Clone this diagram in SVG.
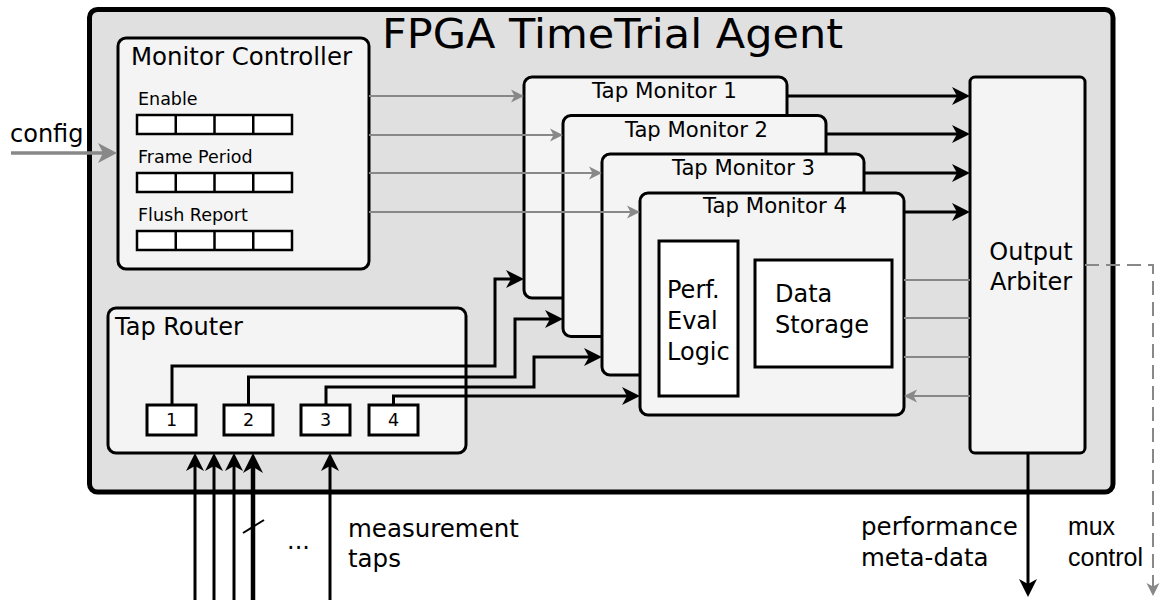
<svg xmlns="http://www.w3.org/2000/svg" width="1160" height="600" viewBox="0 0 1160 600">
<style>
.box{fill:#f4f4f4;stroke:#000;stroke-width:3}
.wb{fill:#fff;stroke:#000;stroke-width:3}
.reg{fill:#fff;stroke:#000;stroke-width:2.5}
.t{font-family:"DejaVu Sans",sans-serif;fill:#000}
.ls{font-family:"Liberation Sans",Arial,sans-serif;fill:#000}
.gl{stroke:#888;stroke-width:2;fill:none}
.bl{stroke:#000;stroke-width:3;fill:none}
</style>
<defs>
<marker id="ag" viewBox="-15 -8 17 16" markerWidth="17" markerHeight="16" refX="-4" refY="0" orient="auto" markerUnits="userSpaceOnUse" overflow="visible"><path d="M0,0 L-13,-6.5 L-9.5,0 L-13,6.5 Z" fill="#888"/></marker>
<marker id="agl" viewBox="-20 -11 22 22" markerWidth="22" markerHeight="22" refX="-5" refY="0" orient="auto" markerUnits="userSpaceOnUse" overflow="visible"><path d="M0,0 L-19,-10 L-14,0 L-19,10 Z" fill="#888"/></marker>
<marker id="ab" viewBox="-20 -10 22 20" markerWidth="22" markerHeight="20" refX="-5" refY="0" orient="auto" markerUnits="userSpaceOnUse" overflow="visible"><path d="M0,0 L-18,-9 L-13,0 L-18,9 Z" fill="#000"/></marker>
<marker id="abb" viewBox="-22 -11 24 22" markerWidth="24" markerHeight="22" refX="-6" refY="0" orient="auto" markerUnits="userSpaceOnUse" overflow="visible"><path d="M0,0 L-20,-10 L-14,0 L-20,10 Z" fill="#000"/></marker>
</defs>
<rect width="1160" height="600" fill="#fff"/>

<g id="agent">
<rect x="89.5" y="9.5" width="1023.5" height="482.5" rx="8" fill="#e0e0e0" stroke="#000" stroke-width="5"/>
<text class="t" x="382" y="48" font-size="41" textLength="461" lengthAdjust="spacingAndGlyphs">FPGA TimeTrial Agent</text>
</g>

<g id="monitor-controller">
<rect class="box" x="118" y="38" width="251" height="231" rx="8"/>
<text class="t" x="131" y="65" font-size="24" textLength="221" lengthAdjust="spacingAndGlyphs">Monitor Controller</text>
<text class="t" x="138" y="105" font-size="17.5">Enable</text>
<rect class="reg" x="137" y="115" width="155" height="19"/>
<path d="M175.75,115V134M214.5,115V134M253.25,115V134" stroke="#000" stroke-width="2.5"/>
<text class="t" x="138" y="163" font-size="17.5">Frame Period</text>
<rect class="reg" x="137" y="173" width="155" height="19"/>
<path d="M175.75,173V192M214.5,173V192M253.25,173V192" stroke="#000" stroke-width="2.5"/>
<text class="t" x="138" y="221" font-size="17.5">Flush Report</text>
<rect class="reg" x="137" y="231" width="155" height="19"/>
<path d="M175.75,231V250M214.5,231V250M253.25,231V250" stroke="#000" stroke-width="2.5"/>
</g>

<g id="tap-router">
<rect class="box" x="108" y="308" width="358" height="145" rx="8"/>
<text class="t" x="115" y="335" font-size="24">Tap Router</text>
<rect class="wb" x="147" y="405" width="49" height="30"/>
<text class="t" x="171.5" y="426" font-size="17.5" text-anchor="middle">1</text>
<rect class="wb" x="224" y="405" width="49" height="30"/>
<text class="t" x="248.5" y="426" font-size="17.5" text-anchor="middle">2</text>
<rect class="wb" x="301" y="405" width="49" height="30"/>
<text class="t" x="325.5" y="426" font-size="17.5" text-anchor="middle">3</text>
<rect class="wb" x="369" y="405" width="49" height="30"/>
<text class="t" x="393.5" y="426" font-size="17.5" text-anchor="middle">4</text>
</g>

<g id="tap-monitor-1">
<rect class="box" x="524" y="77" width="263" height="221" rx="8"/>
<text class="t" x="592" y="98" font-size="20.5" textLength="145" lengthAdjust="spacingAndGlyphs">Tap Monitor 1</text>
</g>
<g id="tap-monitor-2">
<rect class="box" x="563" y="115.5" width="263" height="221" rx="8"/>
<text class="t" x="625" y="137" font-size="20.5" textLength="143" lengthAdjust="spacingAndGlyphs">Tap Monitor 2</text>
</g>
<g id="tap-monitor-3">
<rect class="box" x="602" y="154" width="262" height="221" rx="8"/>
<text class="t" x="672" y="175" font-size="20.5" textLength="143" lengthAdjust="spacingAndGlyphs">Tap Monitor 3</text>
</g>
<g id="tap-monitor-4">
<rect class="box" x="640" y="193" width="264" height="222" rx="8"/>
<text class="t" x="703" y="213" font-size="20.5" textLength="144" lengthAdjust="spacingAndGlyphs">Tap Monitor 4</text>
<rect class="wb" x="659" y="241" width="79" height="155"/>
<text class="t" x="667" y="298" font-size="24">Perf.</text>
<text class="t" x="667" y="329" font-size="24">Eval</text>
<text class="t" x="667" y="360" font-size="24">Logic</text>
<rect class="wb" x="755" y="260" width="137" height="107"/>
<text class="t" x="775" y="302" font-size="24">Data</text>
<text class="t" x="775" y="333" font-size="24">Storage</text>
</g>

<g id="output-arbiter">
<rect class="box" x="970" y="77" width="115" height="376" rx="5"/>
<text class="t" x="1031" y="260" font-size="24" text-anchor="middle">Output</text>
<text class="t" x="1031" y="290" font-size="24" text-anchor="middle">Arbiter</text>
</g>

<g id="connectors">
<path d="M11,153H112" stroke="#888" stroke-width="3.5" fill="none" marker-end="url(#agl)"/>
<path class="gl" d="M369,96H520" marker-end="url(#ag)"/>
<path class="gl" d="M369,135H559" marker-end="url(#ag)"/>
<path class="gl" d="M369,173H598" marker-end="url(#ag)"/>
<path class="gl" d="M369,212H636" marker-end="url(#ag)"/>
<path class="bl" d="M787,96H965" marker-end="url(#ab)"/>
<path class="bl" d="M826,134H965" marker-end="url(#ab)"/>
<path class="bl" d="M864,173H965" marker-end="url(#ab)"/>
<path class="bl" d="M904,212H965" marker-end="url(#ab)"/>
<path class="gl" d="M904,280H970M904,318H970M904,357H970"/>
<path class="gl" d="M970,396H908" marker-end="url(#ag)"/>
<path class="bl" d="M172,405V366H495V279H519" marker-end="url(#ab)"/>
<path class="bl" d="M248.5,405V377H515V319H558" marker-end="url(#ab)"/>
<path class="bl" d="M326,405V387H534V357H597" marker-end="url(#ab)"/>
<path class="bl" d="M393.5,405V396H635" marker-end="url(#ab)"/>
<path class="bl" d="M195,600V458" marker-end="url(#ab)"/>
<path class="bl" d="M214,600V458" marker-end="url(#ab)"/>
<path class="bl" d="M234,600V458" marker-end="url(#ab)"/>
<path d="M253,600V459" stroke="#000" stroke-width="4.5" fill="none" marker-end="url(#abb)"/>
<path d="M243,533L264,520" stroke="#000" stroke-width="2"/>
<path class="bl" d="M330,600V458" marker-end="url(#ab)"/>
<path class="bl" d="M1028,453V592" marker-end="url(#ab)"/>
<path d="M1085,265H1153V592" stroke="#888" stroke-width="2" stroke-dasharray="14,7" fill="none" marker-end="url(#ag)"/>
</g>

<g id="labels">
<text class="t" x="10" y="142" font-size="24">config</text>
<text class="t" x="287" y="549" font-size="24">...</text>
<text class="t" x="348" y="537" font-size="24.5">measurement</text>
<text class="t" x="348" y="567" font-size="24.5">taps</text>
<text class="t" x="861" y="535" font-size="24.5">performance</text>
<text class="t" x="861" y="566" font-size="24.5">meta-data</text>
<text class="ls" x="1068" y="535" font-size="26" textLength="47" lengthAdjust="spacingAndGlyphs">mux</text>
<text class="ls" x="1068" y="566" font-size="26" textLength="75" lengthAdjust="spacingAndGlyphs">control</text>
</g>
</svg>
